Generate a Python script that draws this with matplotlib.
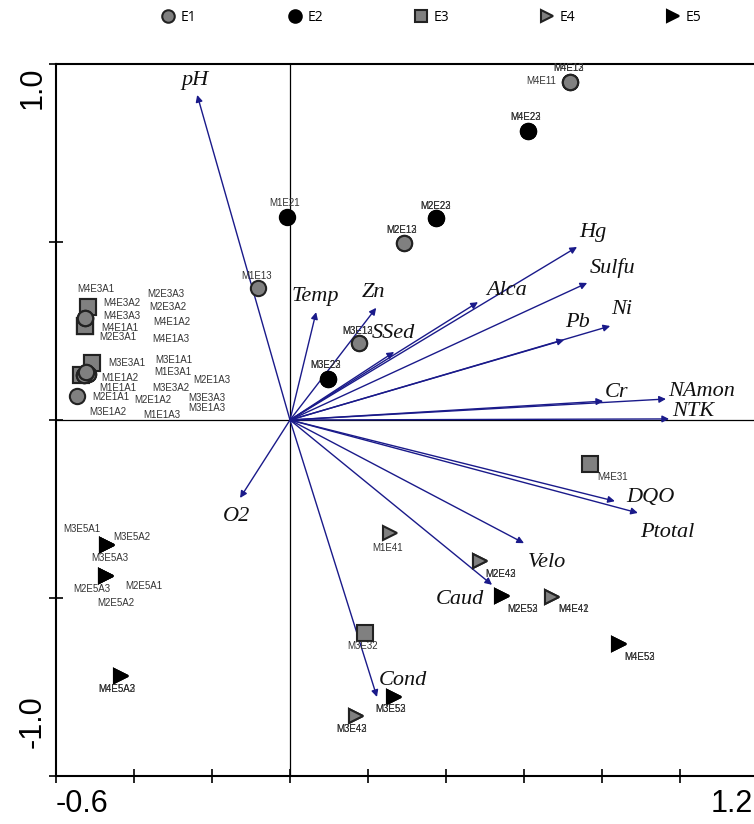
import matplotlib
matplotlib.use("Agg")
import matplotlib.pyplot as plt
from matplotlib.lines import Line2D
import matplotlib.transforms as mtransforms
import numpy as np

# ---------------- data ----------------
sample_names = [
    "M4E11", "M4E12", "M4E13", "M2E12", "M2E13", "M1E13", "M3E12", "M3E13",
    "M4E1A1", "M4E1A2", "M4E1A3", "M1E1A1", "M1E1A2", "M1E1A3",
    "M3E1A1", "M3E1A2", "M3E1A3", "M2E1A1", "M2E1A2", "M2E1A3",
    "M4E22", "M4E23", "M2E22", "M2E23", "M1E21", "M3E22", "M3E23",
    "M4E3A1", "M4E3A2", "M4E3A3", "M2E3A1", "M2E3A2", "M2E3A3",
    "M3E3A1", "M1E3A1", "M3E3A2", "M3E3A3", "M4E31", "M3E32",
    "M1E41", "M2E42", "M2E43", "M4E41", "M4E42", "M3E42", "M3E43",
    "M3E5A1", "M3E5A2", "M3E5A3", "M2E5A1", "M2E5A2", "M2E5A3",
    "M4E5A2", "M4E5A3", "M2E52", "M2E53", "M4E52", "M4E53", "M3E52", "M3E53",
]
sample_x = [
    0.718, 0.718, 0.718, 0.292, 0.292, -0.082, 0.177, 0.177,
    -0.526, -0.526, -0.526, -0.518, -0.518, -0.518,
    -0.528, -0.528, -0.528, -0.546, -0.523, -0.523,
    0.610, 0.610, 0.374, 0.374, -0.008, 0.097, 0.097,
    -0.518, -0.518, -0.526, -0.526, -0.526, -0.526,
    -0.508, -0.508, -0.536, -0.536, 0.769, 0.192,
    0.256, 0.487, 0.487, 0.672, 0.672, 0.169, 0.169,
    -0.469, -0.469, -0.469, -0.472, -0.472, -0.472,
    -0.433, -0.433, 0.544, 0.544, 0.844, 0.844, 0.267, 0.267,
]
sample_y = [
    0.949, 0.949, 0.949, 0.497, 0.497, 0.371, 0.216, 0.216,
    0.287, 0.287, 0.287, 0.129, 0.129, 0.129,
    0.126, 0.126, 0.126, 0.067, 0.135, 0.135,
    0.812, 0.812, 0.567, 0.567, 0.570, 0.115, 0.115,
    0.317, 0.317, 0.264, 0.264, 0.264, 0.264,
    0.160, 0.160, 0.126, 0.126, -0.124, -0.598,
    -0.317, -0.396, -0.396, -0.497, -0.497, -0.831, -0.831,
    -0.351, -0.351, -0.351, -0.438, -0.438, -0.438,
    -0.719, -0.719, -0.494, -0.494, -0.629, -0.629, -0.778, -0.778,
]
sample_group = (["E1"] * 20 + ["E2"] * 7 + ["E3"] * 12 + ["E4"] * 7 + ["E5"] * 14)
label_x = [
    0.644, 0.715, 0.715, 0.287, 0.287, -0.085, 0.172, 0.172,
    -0.436, -0.303, -0.305, -0.441, -0.436, -0.328,
    -0.297, -0.467, -0.213, -0.459, -0.351, -0.200,
    0.605, 0.605, 0.372, 0.372, -0.013, 0.092, 0.092,
    -0.497, -0.431, -0.431, -0.441, -0.313, -0.318,
    -0.418, -0.300, -0.305, -0.213, 0.826, 0.187,
    0.249, 0.541, 0.541, 0.726, 0.726, 0.159, 0.159,
    -0.533, -0.405, -0.462, -0.374, -0.446, -0.508,
    -0.444, -0.444, 0.597, 0.597, 0.897, 0.897, 0.259, 0.259,
]
label_y = [
    0.952, 0.989, 0.989, 0.534, 0.534, 0.404, 0.250, 0.250,
    0.258, 0.275, 0.228, 0.090, 0.118, 0.014,
    0.169, 0.022, 0.034, 0.065, 0.056, 0.112,
    0.851, 0.851, 0.601, 0.601, 0.610, 0.154, 0.154,
    0.368, 0.329, 0.292, 0.233, 0.317, 0.354,
    0.160, 0.135, 0.090, 0.062, -0.160, -0.635,
    -0.360, -0.433, -0.433, -0.531, -0.531, -0.868, -0.868,
    -0.306, -0.329, -0.388, -0.466, -0.514, -0.475,
    -0.756, -0.756, -0.531, -0.531, -0.666, -0.666, -0.812, -0.812,
]

var_names = ["pH", "Temp", "Zn", "SSed", "Alca", "Hg", "Sulfu", "Ni", "Pb",
             "Cr", "NAmon", "NTK", "DQO", "Ptotal", "Velo", "Caud", "Cond", "O2"]
var_x = [-0.238, 0.067, 0.221, 0.267, 0.482, 0.736, 0.762, 0.821, 0.703,
         0.803, 0.964, 0.972, 0.833, 0.892, 0.600, 0.518, 0.223, -0.128]
var_y = [0.913, 0.303, 0.315, 0.191, 0.331, 0.486, 0.385, 0.264, 0.225,
         0.053, 0.059, 0.003, -0.228, -0.261, -0.346, -0.463, -0.778, -0.219]
var_label_x = [-0.244, 0.064, 0.213, 0.264, 0.556, 0.777, 0.826, 0.851, 0.738,
               0.838, 1.056, 1.033, 0.923, 0.967, 0.659, 0.436, 0.290, -0.136]
var_label_y = [0.955, 0.346, 0.357, 0.244, 0.365, 0.528, 0.427, 0.309, 0.275,
               0.076, 0.079, 0.025, -0.219, -0.315, -0.399, -0.503, -0.733, -0.272]

groups = ["E1", "E2", "E3", "E4", "E5"]
draw_order = ["E3", "E1", "E2", "E4", "E5"]
x_ticks = [-0.6, -0.4, -0.2, 0.0, 0.2, 0.4, 0.6, 0.8, 1.0, 1.2]
x_end_labels = ["-0.6", "1.2"]
y_ticks = [-1.0, -0.5, 0.0, 0.5, 1.0]
y_end_labels = ["1.0", "-1.0"]

# ---------------- styles ----------------
GRAY = "#808080"
styles = {
    "E1": dict(marker="o", mfc=GRAY, mec="#222222", ms=11),
    "E2": dict(marker="o", mfc="black", mec="black", ms=11),
    "E3": dict(marker="s", mfc=GRAY, mec="#222222", ms=11),
    "E4": dict(marker=">", mfc=GRAY, mec="#222222", ms=10),
    "E5": dict(marker=">", mfc="black", mec="black", ms=10),
}
ARROW = "#1a1a8a"

fig = plt.figure(figsize=(7.54, 8.24), dpi=100)
ax = fig.add_axes([56 / 754, 48 / 824, 702 / 754, 712 / 824])
ax.set_xlim(-0.6, 1.2)
ax.set_ylim(-1.0, 1.0)

ax.axhline(0, color="black", lw=0.9, zorder=1)
ax.axvline(0, color="black", lw=0.9, zorder=1)

# biplot arrows
for name, vx, vy, lx, ly in zip(var_names, var_x, var_y, var_label_x, var_label_y):
    ax.annotate("", xy=(vx, vy), xytext=(0, 0),
                arrowprops=dict(arrowstyle="-|>", color=ARROW, lw=1.0,
                                mutation_scale=10, shrinkA=0, shrinkB=0),
                zorder=2)
    ax.text(lx, ly, name, family="Liberation Serif", style="italic",
            fontsize=16, ha="center", va="center", color="#111111", zorder=3)

# sample points
sx = np.array(sample_x)
sy = np.array(sample_y)
sg = np.array(sample_group)
for g in draw_order:
    m = sg == g
    st = styles[g]
    ax.plot(sx[m], sy[m], linestyle="none", marker=st["marker"],
            markerfacecolor=st["mfc"], markeredgecolor=st["mec"],
            markersize=st["ms"], markeredgewidth=1.5, zorder=4)

for name, lx, ly in zip(sample_names, label_x, label_y):
    ax.text(lx, ly, name, family="Liberation Sans", fontsize=7,
            ha="center", va="center", color="#333333", zorder=5)

# axes styling
for side in ["left", "bottom", "top"]:
    ax.spines[side].set_linewidth(1.5)
ax.spines["right"].set_visible(False)

ax.set_xticks(x_ticks)
ax.set_xticklabels([""] * len(x_ticks))
ax.set_yticks(y_ticks)
ax.set_yticklabels([""] * len(y_ticks))
ax.tick_params(axis="both", direction="inout", length=10, width=1.2)

xtr = ax.get_xaxis_transform()
ax.text(x_ticks[0], -0.04, x_end_labels[0], transform=xtr,
        family="Liberation Sans", fontsize=22, ha="left", va="center")
ax.text(x_ticks[-1], -0.04, x_end_labels[1],
        transform=mtransforms.offset_copy(xtr, fig=fig, x=-5, y=0, units="dots"),
        family="Liberation Sans", fontsize=22, ha="right", va="center")

ytr = ax.get_yaxis_transform()
ax.text(-0.033, 0.933, y_end_labels[0], transform=ytr, rotation=90,
        family="Liberation Sans", fontsize=22, ha="center", va="center")
ax.text(-0.033, -0.848, y_end_labels[1], transform=ytr, rotation=90,
        family="Liberation Sans", fontsize=22, ha="center", va="center")

# legend
handles = [Line2D([], [], linestyle="none", marker=styles[g]["marker"],
                  markerfacecolor=styles[g]["mfc"], markeredgecolor=styles[g]["mec"],
                  markersize=9, markeredgewidth=1.5) for g in groups]
fig.legend(handles, groups, loc="center", bbox_to_anchor=(0.572, 0.979), ncol=5,
           frameon=False, handlelength=1.0, handletextpad=0.4, columnspacing=6.55,
           prop=dict(family="Open Sans", size=10))

fig.savefig("out.png", dpi=100)
